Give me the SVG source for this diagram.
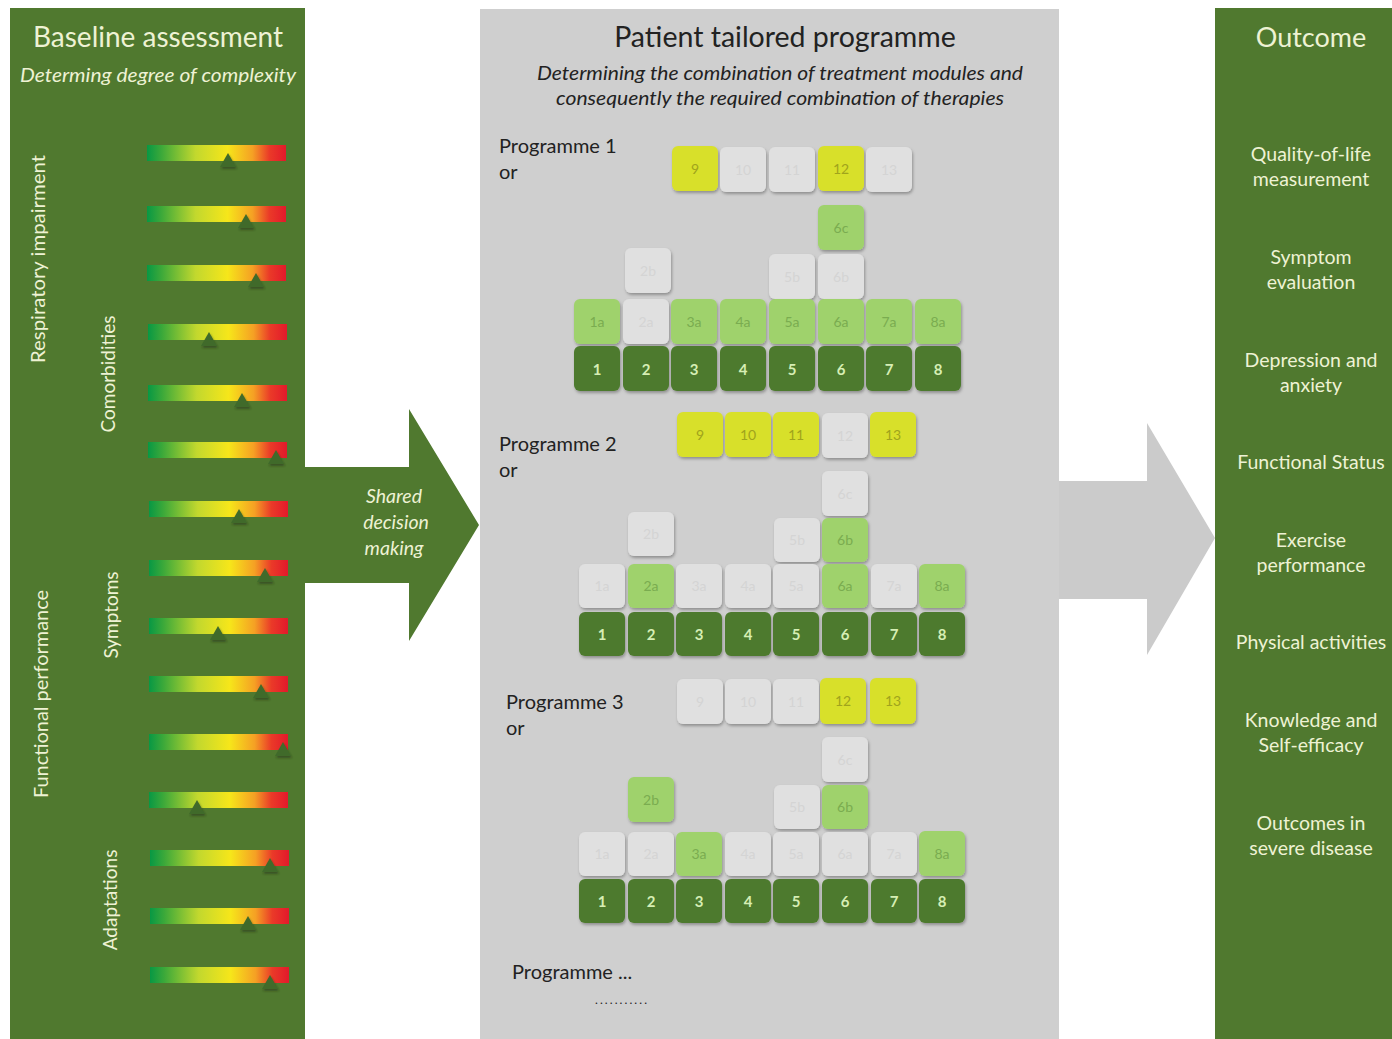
<svg xmlns="http://www.w3.org/2000/svg" width="1392" height="1039" viewBox="0 0 1392 1039">
<defs>
<linearGradient id="grad" x1="0" y1="0" x2="1" y2="0">
<stop offset="0" stop-color="#089844"/>
<stop offset="0.1" stop-color="#3aa83a"/>
<stop offset="0.35" stop-color="#c2d82e"/>
<stop offset="0.58" stop-color="#f6e61a"/>
<stop offset="0.76" stop-color="#f5a024"/>
<stop offset="0.88" stop-color="#ea3a28"/>
<stop offset="1" stop-color="#e2192b"/>
</linearGradient>
<filter id="sh" x="-20%" y="-20%" width="150%" height="150%">
<feDropShadow dx="1" dy="2" stdDeviation="1.5" flood-color="#000" flood-opacity="0.3"/>
</filter>
<filter id="tsh" x="-40%" y="-40%" width="180%" height="180%">
<feDropShadow dx="1" dy="2" stdDeviation="1.2" flood-color="#1a2a10" flood-opacity="0.5"/>
</filter>
</defs>
<style>
.gp{fill:#50792f}
.mp{fill:#cfcfcf}
.lt{font-family:Lato,"Liberation Sans",sans-serif;fill:#eef2d4}
.dt{font-family:Lato,"Liberation Sans",sans-serif;fill:#222}
.it{font-style:italic}
.t{filter:url(#sh)}
.D{fill:#4d7a2e}
.L{fill:#9fd26c}
.Y{fill:#d8e02c}
.G{fill:#e0e0e0}
.tx{font-family:Lato,"Liberation Sans",sans-serif;font-size:14px;text-anchor:middle}
.tD{fill:#d6eeb4;font-size:15px;font-weight:bold}
.tL{fill:#7aac50}
.tY{fill:#a0a41c}
.tG{fill:#d4d4d4}
.bar{fill:url(#grad)}
.tri{fill:#3f6b2a;filter:url(#tsh)}
</style>
<rect width="1392" height="1039" fill="#ffffff"/>

<g id="connectors">
<path d="M304,467 L409,467 L409,409 L479,525 L409,641 L409,583 L304,583 Z" class="gp"/>
<path d="M1059,481 L1147,481 L1147,423 L1215,538 L1147,655 L1147,599 L1059,599 Z" fill="#cbcbcb"/>
<text class="lt it" font-size="19.5" text-anchor="middle"><tspan x="394" y="503">Shared</tspan><tspan x="396" y="529">decision</tspan><tspan x="394" y="555">making</tspan></text>
</g>

<g id="baseline">
<rect x="10" y="8" width="295" height="1031" class="gp"/>
<text class="lt" x="158" y="47" font-size="28" text-anchor="middle">Baseline assessment</text>
<text class="lt it" x="158" y="82" font-size="19" text-anchor="middle" textLength="276" lengthAdjust="spacingAndGlyphs">Determing degree of complexity</text>
<text class="lt" font-size="19" text-anchor="middle" transform="translate(45,259) rotate(-90)" textLength="208" lengthAdjust="spacingAndGlyphs">Respiratory impairment</text>
<text class="lt" font-size="19" text-anchor="middle" transform="translate(115,374) rotate(-90)">Comorbidities</text>
<text class="lt" font-size="19" text-anchor="middle" transform="translate(48,694) rotate(-90)" textLength="208" lengthAdjust="spacingAndGlyphs">Functional performance</text>
<text class="lt" font-size="19" text-anchor="middle" transform="translate(118,615) rotate(-90)">Symptoms</text>
<text class="lt" font-size="19" text-anchor="middle" transform="translate(117,900) rotate(-90)">Adaptations</text>
<g id="bars">
<rect class="bar" x="147" y="145" width="139" height="16"/>
<rect class="bar" x="147" y="206" width="139" height="16"/>
<rect class="bar" x="147" y="265" width="139" height="16"/>
<rect class="bar" x="148" y="324" width="139" height="16"/>
<rect class="bar" x="148" y="385" width="139" height="16"/>
<rect class="bar" x="148" y="442" width="139" height="16"/>
<rect class="bar" x="149" y="501" width="139" height="16"/>
<rect class="bar" x="149" y="560" width="139" height="16"/>
<rect class="bar" x="149" y="618" width="139" height="16"/>
<rect class="bar" x="149" y="676" width="139" height="16"/>
<rect class="bar" x="149" y="734" width="139" height="16"/>
<rect class="bar" x="149" y="792" width="139" height="16"/>
<rect class="bar" x="150" y="850" width="139" height="16"/>
<rect class="bar" x="150" y="908" width="139" height="16"/>
<rect class="bar" x="150" y="967" width="139" height="16"/>
</g>
<g id="markers">
<path class="tri" d="M228,153 L236,167 L220,167 Z"/>
<path class="tri" d="M246,214 L254,228 L238,228 Z"/>
<path class="tri" d="M256,273 L264,287 L248,287 Z"/>
<path class="tri" d="M209,332 L217,346 L201,346 Z"/>
<path class="tri" d="M242,393 L250,407 L234,407 Z"/>
<path class="tri" d="M276,450 L284,464 L268,464 Z"/>
<path class="tri" d="M239,509 L247,523 L231,523 Z"/>
<path class="tri" d="M265,568 L273,582 L257,582 Z"/>
<path class="tri" d="M218,626 L226,640 L210,640 Z"/>
<path class="tri" d="M261,684 L269,698 L253,698 Z"/>
<path class="tri" d="M283,742 L291,756 L275,756 Z"/>
<path class="tri" d="M197,800 L205,814 L189,814 Z"/>
<path class="tri" d="M270,858 L278,872 L262,872 Z"/>
<path class="tri" d="M248,916 L256,930 L240,930 Z"/>
<path class="tri" d="M270,975 L278,989 L262,989 Z"/>
</g>
</g>

<g id="programme">
<rect x="480" y="9" width="579" height="1030" class="mp"/>
<text class="dt" x="785" y="47" font-size="28.5" text-anchor="middle">Patient tailored programme</text>
<text class="dt it" x="780" y="80" font-size="19" text-anchor="middle" textLength="486" lengthAdjust="spacingAndGlyphs">Determining the combination of treatment modules and</text>
<text class="dt it" x="780" y="105" font-size="19" text-anchor="middle" textLength="448" lengthAdjust="spacingAndGlyphs">consequently the required combination of therapies</text>

<g id="prog1">
<text class="dt" font-size="20"><tspan x="499" y="153">Programme 1</tspan><tspan x="499" y="179">or</tspan></text>
<rect class="t Y" x="672" y="146" width="46" height="45" rx="6"/><text class="tx tY" x="695" y="174">9</text>
<rect class="t G" x="720" y="147" width="46" height="45" rx="6"/><text class="tx tG" x="743" y="175">10</text>
<rect class="t G" x="769" y="147" width="46" height="45" rx="6"/><text class="tx tG" x="792" y="175">11</text>
<rect class="t Y" x="818" y="146" width="46" height="45" rx="6"/><text class="tx tY" x="841" y="174">12</text>
<rect class="t G" x="866" y="147" width="46" height="45" rx="6"/><text class="tx tG" x="889" y="175">13</text>
<rect class="t L" x="818" y="205" width="46" height="45" rx="6"/><text class="tx tL" x="841" y="233">6c</text>
<rect class="t G" x="625" y="248" width="46" height="45" rx="6"/><text class="tx tG" x="648" y="276">2b</text>
<rect class="t G" x="769" y="254" width="46" height="45" rx="6"/><text class="tx tG" x="792" y="282">5b</text>
<rect class="t G" x="818" y="254" width="46" height="45" rx="6"/><text class="tx tG" x="841" y="282">6b</text>
<rect class="t L" x="574" y="299" width="46" height="45" rx="6"/><text class="tx tL" x="597" y="327">1a</text>
<rect class="t G" x="623" y="299" width="46" height="45" rx="6"/><text class="tx tG" x="646" y="327">2a</text>
<rect class="t L" x="671" y="299" width="46" height="45" rx="6"/><text class="tx tL" x="694" y="327">3a</text>
<rect class="t L" x="720" y="299" width="46" height="45" rx="6"/><text class="tx tL" x="743" y="327">4a</text>
<rect class="t L" x="769" y="299" width="46" height="45" rx="6"/><text class="tx tL" x="792" y="327">5a</text>
<rect class="t L" x="818" y="299" width="46" height="45" rx="6"/><text class="tx tL" x="841" y="327">6a</text>
<rect class="t L" x="866" y="299" width="46" height="45" rx="6"/><text class="tx tL" x="889" y="327">7a</text>
<rect class="t L" x="915" y="299" width="46" height="45" rx="6"/><text class="tx tL" x="938" y="327">8a</text>
<rect class="t D" x="574" y="346" width="46" height="45" rx="6"/><text class="tx tD" x="597" y="375">1</text>
<rect class="t D" x="623" y="346" width="46" height="45" rx="6"/><text class="tx tD" x="646" y="375">2</text>
<rect class="t D" x="671" y="346" width="46" height="45" rx="6"/><text class="tx tD" x="694" y="375">3</text>
<rect class="t D" x="720" y="346" width="46" height="45" rx="6"/><text class="tx tD" x="743" y="375">4</text>
<rect class="t D" x="769" y="346" width="46" height="45" rx="6"/><text class="tx tD" x="792" y="375">5</text>
<rect class="t D" x="818" y="346" width="46" height="45" rx="6"/><text class="tx tD" x="841" y="375">6</text>
<rect class="t D" x="866" y="346" width="46" height="45" rx="6"/><text class="tx tD" x="889" y="375">7</text>
<rect class="t D" x="915" y="346" width="46" height="45" rx="6"/><text class="tx tD" x="938" y="375">8</text>
</g>

<g id="prog2">
<text class="dt" font-size="20"><tspan x="499" y="451">Programme 2</tspan><tspan x="499" y="477">or</tspan></text>
<rect class="t Y" x="677" y="412" width="46" height="45" rx="6"/><text class="tx tY" x="700" y="440">9</text>
<rect class="t Y" x="725" y="412" width="46" height="45" rx="6"/><text class="tx tY" x="748" y="440">10</text>
<rect class="t Y" x="773" y="412" width="46" height="45" rx="6"/><text class="tx tY" x="796" y="440">11</text>
<rect class="t G" x="822" y="413" width="46" height="45" rx="6"/><text class="tx tG" x="845" y="441">12</text>
<rect class="t Y" x="870" y="412" width="46" height="45" rx="6"/><text class="tx tY" x="893" y="440">13</text>
<rect class="t G" x="822" y="471" width="46" height="45" rx="6"/><text class="tx tG" x="845" y="499">6c</text>
<rect class="t G" x="628" y="512" width="46" height="44" rx="6"/><text class="tx tG" x="651" y="539">2b</text>
<rect class="t G" x="774" y="518" width="46" height="44" rx="6"/><text class="tx tG" x="797" y="545">5b</text>
<rect class="t L" x="822" y="518" width="46" height="44" rx="6"/><text class="tx tL" x="845" y="545">6b</text>
<rect class="t G" x="579" y="564" width="46" height="44" rx="6"/><text class="tx tG" x="602" y="591">1a</text>
<rect class="t L" x="628" y="564" width="46" height="44" rx="6"/><text class="tx tL" x="651" y="591">2a</text>
<rect class="t G" x="676" y="564" width="46" height="44" rx="6"/><text class="tx tG" x="699" y="591">3a</text>
<rect class="t G" x="725" y="564" width="46" height="44" rx="6"/><text class="tx tG" x="748" y="591">4a</text>
<rect class="t G" x="773" y="564" width="46" height="44" rx="6"/><text class="tx tG" x="796" y="591">5a</text>
<rect class="t L" x="822" y="564" width="46" height="44" rx="6"/><text class="tx tL" x="845" y="591">6a</text>
<rect class="t G" x="871" y="564" width="46" height="44" rx="6"/><text class="tx tG" x="894" y="591">7a</text>
<rect class="t L" x="919" y="564" width="46" height="44" rx="6"/><text class="tx tL" x="942" y="591">8a</text>
<rect class="t D" x="579" y="612" width="46" height="44" rx="6"/><text class="tx tD" x="602" y="640">1</text>
<rect class="t D" x="628" y="612" width="46" height="44" rx="6"/><text class="tx tD" x="651" y="640">2</text>
<rect class="t D" x="676" y="612" width="46" height="44" rx="6"/><text class="tx tD" x="699" y="640">3</text>
<rect class="t D" x="725" y="612" width="46" height="44" rx="6"/><text class="tx tD" x="748" y="640">4</text>
<rect class="t D" x="773" y="612" width="46" height="44" rx="6"/><text class="tx tD" x="796" y="640">5</text>
<rect class="t D" x="822" y="612" width="46" height="44" rx="6"/><text class="tx tD" x="845" y="640">6</text>
<rect class="t D" x="871" y="612" width="46" height="44" rx="6"/><text class="tx tD" x="894" y="640">7</text>
<rect class="t D" x="919" y="612" width="46" height="44" rx="6"/><text class="tx tD" x="942" y="640">8</text>
</g>

<g id="prog3">
<text class="dt" font-size="20"><tspan x="506" y="709">Programme 3</tspan><tspan x="506" y="735">or</tspan></text>
<rect class="t G" x="677" y="679" width="46" height="45" rx="6"/><text class="tx tG" x="700" y="707">9</text>
<rect class="t G" x="725" y="679" width="46" height="45" rx="6"/><text class="tx tG" x="748" y="707">10</text>
<rect class="t G" x="773" y="679" width="46" height="45" rx="6"/><text class="tx tG" x="796" y="707">11</text>
<rect class="t Y" x="820" y="678" width="46" height="46" rx="6"/><text class="tx tY" x="843" y="706">12</text>
<rect class="t Y" x="870" y="678" width="46" height="46" rx="6"/><text class="tx tY" x="893" y="706">13</text>
<rect class="t G" x="822" y="737" width="46" height="45" rx="6"/><text class="tx tG" x="845" y="765">6c</text>
<rect class="t L" x="628" y="777" width="46" height="45" rx="6"/><text class="tx tL" x="651" y="805">2b</text>
<rect class="t G" x="774" y="785" width="46" height="44" rx="6"/><text class="tx tG" x="797" y="812">5b</text>
<rect class="t L" x="822" y="785" width="46" height="44" rx="6"/><text class="tx tL" x="845" y="812">6b</text>
<rect class="t G" x="579" y="832" width="46" height="44" rx="6"/><text class="tx tG" x="602" y="859">1a</text>
<rect class="t G" x="628" y="832" width="46" height="44" rx="6"/><text class="tx tG" x="651" y="859">2a</text>
<rect class="t L" x="676" y="832" width="46" height="44" rx="6"/><text class="tx tL" x="699" y="859">3a</text>
<rect class="t G" x="725" y="832" width="46" height="44" rx="6"/><text class="tx tG" x="748" y="859">4a</text>
<rect class="t G" x="773" y="832" width="46" height="44" rx="6"/><text class="tx tG" x="796" y="859">5a</text>
<rect class="t G" x="822" y="832" width="46" height="44" rx="6"/><text class="tx tG" x="845" y="859">6a</text>
<rect class="t G" x="871" y="832" width="46" height="44" rx="6"/><text class="tx tG" x="894" y="859">7a</text>
<rect class="t L" x="919" y="831" width="46" height="45" rx="6"/><text class="tx tL" x="942" y="859">8a</text>
<rect class="t D" x="579" y="879" width="46" height="44" rx="6"/><text class="tx tD" x="602" y="907">1</text>
<rect class="t D" x="628" y="879" width="46" height="44" rx="6"/><text class="tx tD" x="651" y="907">2</text>
<rect class="t D" x="676" y="879" width="46" height="44" rx="6"/><text class="tx tD" x="699" y="907">3</text>
<rect class="t D" x="725" y="879" width="46" height="44" rx="6"/><text class="tx tD" x="748" y="907">4</text>
<rect class="t D" x="773" y="879" width="46" height="44" rx="6"/><text class="tx tD" x="796" y="907">5</text>
<rect class="t D" x="822" y="879" width="46" height="44" rx="6"/><text class="tx tD" x="845" y="907">6</text>
<rect class="t D" x="871" y="879" width="46" height="44" rx="6"/><text class="tx tD" x="894" y="907">7</text>
<rect class="t D" x="919" y="879" width="46" height="44" rx="6"/><text class="tx tD" x="942" y="907">8</text>
</g>

<g id="progmore">
<text class="dt" x="512" y="979" font-size="20">Programme ...</text>
<text class="dt" x="595" y="1004" font-size="12" textLength="52" lengthAdjust="spacing">...........</text>
</g>
</g>

<g id="outcome">
<rect x="1215" y="8" width="177" height="1031" class="gp"/>
<text class="lt" x="1311" y="47" font-size="27" text-anchor="middle">Outcome</text>
<g font-size="19.5" text-anchor="middle" class="lt">
<text class="lt" x="1311" y="161">Quality-of-life</text>
<text class="lt" x="1311" y="186">measurement</text>
<text class="lt" x="1311" y="264">Symptom</text>
<text class="lt" x="1311" y="289">evaluation</text>
<text class="lt" x="1311" y="367">Depression and</text>
<text class="lt" x="1311" y="392">anxiety</text>
<text class="lt" x="1311" y="469">Functional Status</text>
<text class="lt" x="1311" y="547">Exercise</text>
<text class="lt" x="1311" y="572">performance</text>
<text class="lt" x="1311" y="649">Physical activities</text>
<text class="lt" x="1311" y="727">Knowledge and</text>
<text class="lt" x="1311" y="752">Self-efficacy</text>
<text class="lt" x="1311" y="830">Outcomes in</text>
<text class="lt" x="1311" y="855">severe disease</text>
</g>
</g>
</svg>
